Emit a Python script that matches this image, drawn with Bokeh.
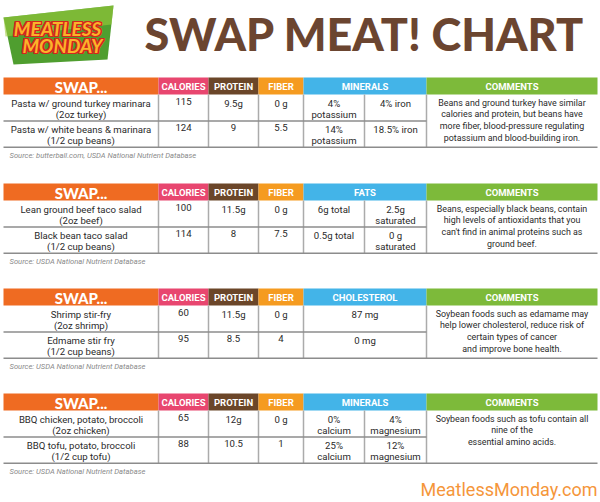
from bokeh.plotting import figure
from bokeh.models import Range1d
from bokeh.core.properties import value
from bokeh.embed import file_html
from bokeh.resources import INLINE

# ---------------- data ----------------
title = "SWAP MEAT! CHART"
logo_lines = ["MEATLESS", "MONDAY"]
footer = "MeatlessMonday.com"

base_headers = ["SWAP...", "CALORIES", "PROTEIN", "FIBER"]
extra_headers = ["MINERALS", "FATS", "CHOLESTEROL", "MINERALS"]
comment_header = "COMMENTS"

swap_foods = [
    ["Pasta w/ ground turkey marinara\n(2oz turkey)", "Pasta w/ white beans & marinara\n(1/2 cup beans)"],
    ["Lean ground beef taco salad\n(2oz beef)", "Black bean taco salad\n(1/2 cup beans)"],
    ["Shrimp stir-fry\n(2oz shrimp)", "Edmame stir fry\n(1/2 cup beans)"],
    ["BBQ chicken, potato, broccoli\n(2oz chicken)", "BBQ tofu, potato, broccoli\n(1/2 cup tofu)"],
]
calories = [["115", "124"], ["100", "114"], ["60", "95"], ["65", "88"]]
protein = [["9.5g", "9"], ["11.5g", "8"], ["11.5g", "8.5"], ["12g", "10.5"]]
fiber = [["0 g", "5.5"], ["0 g", "7.5"], ["0 g", "4"], ["0 g", "1"]]
extra_a = [["4%\npotassium", "14%\npotassium"],
           ["6g total", "0.5g total"],
           ["87 mg", "0 mg"],
           ["0%\ncalcium", "25%\ncalcium"]]
extra_b = [["4% iron", "18.5% iron"],
           ["2.5g\nsaturated", "0 g\nsaturated"],
           None,
           ["4%\nmagnesium", "12%\nmagnesium"]]
comments = [
    "Beans and ground turkey have similar\ncalories and protein, but beans have\nmore fiber, blood-pressure regulating\npotassium and blood-building iron.",
    "Beans, especially black beans, contain\nhigh levels of antioxidants that you\ncan't find in animal proteins such as\nground beef.",
    "Soybean foods such as edamame may\nhelp lower cholesterol, reduce risk of\ncertain types of cancer\nand improve bone health.",
    "Soybean foods such as tofu contain all\nnine of the\nessential amino acids.",
]
sources = [
    "Source: butterball.com, USDA National Nutrient Database",
    "Source: USDA National Nutrient Database",
    "Source: USDA National Nutrient Database",
    "Source: USDA National Nutrient Database",
]

# ---------------- layout / style ----------------
edges = [3, 158, 208, 258, 303, 364, 426, 597]
table_tops = [77, 183, 288, 393]
hh = 17
rh = 26.4
header_colors = ["#ef6b22", "#e8466f", "#6b4629", "#f59b20", "#43b4e8", "#7dba3a"]
BODY = value("Roboto")
HEAVY = value("'Lato Black', Lato")
BODY_COLOR = "#2a2a2a"

p = figure(width=600, height=502, x_range=Range1d(0, 600), y_range=Range1d(502, 0),
           output_backend="svg", toolbar_location=None, min_border=0)
p.axis.visible = False
p.grid.visible = False
p.outline_line_color = None
p.background_fill_color = "white"

# ---------- logo ----------
p.patch([3, 113, 107, 13], [17, 5, 59, 64], fill_color="#4f9e2f", line_color=None)
p.patch([3, 113, 111, 5], [17, 5, 24, 36], fill_color="#9ccb3c", line_color=None, fill_alpha=0.6)
logo_x = [57, 62]
logo_y = [28, 45]
for dx in (-1.4, 0, 1.4):
    for dy in (-1.4, 0, 1.4):
        p.text([x + dx for x in logo_x], [y + dy for y in logo_y], text=logo_lines,
               text_align="center", text_baseline="middle", text_color="#d3261e",
               text_font=value("Lato"), text_font_style="bold italic", text_font_size="19px")
p.text(logo_x, logo_y, text=logo_lines, text_align="center", text_baseline="middle",
       text_color="#fbb32a", text_font=value("Lato"), text_font_style="bold italic",
       text_font_size="19px")

# ---------- title ----------
p.text([364], [33], text=[title], text_align="center", text_baseline="middle",
       text_color="#6b4530", text_font=HEAVY, text_font_style="bold",
       text_font_size="45px")

# ---------- tables ----------
for t, top in enumerate(table_tops):
    hb = top + hh
    r1 = hb + rh
    bot = r1 + rh
    hl = [edges[0], edges[1], edges[2], edges[3], edges[4], edges[6]]
    hr = [edges[1], edges[2], edges[3], edges[4], edges[6], edges[7]]
    p.quad(left=hl, right=hr, top=[top] * 6, bottom=[hb] * 6,
           fill_color=header_colors, line_color=None)
    p.text([(edges[0] + edges[1]) / 2], [top + hh / 2 + 0.8], text=[base_headers[0]],
           text_align="center", text_baseline="middle", text_color="white",
           text_font=HEAVY, text_font_style="bold", text_font_size="15px")
    hx = [(edges[1] + edges[2]) / 2, (edges[2] + edges[3]) / 2, (edges[3] + edges[4]) / 2,
          (edges[4] + edges[6]) / 2, (edges[6] + edges[7]) / 2]
    p.text(hx, [top + hh / 2 + 0.5] * 5,
           text=[base_headers[1], base_headers[2], base_headers[3], extra_headers[t], comment_header],
           text_align="center", text_baseline="middle", text_color="white",
           text_font=BODY, text_font_style="bold", text_font_size="9.5px")
    vx = [edges[1], edges[2], edges[3], edges[4], edges[6]]
    if extra_b[t] is not None:
        vx.append(edges[5])
    p.segment(x0=vx, y0=[hb] * len(vx), x1=vx, y1=[bot] * len(vx),
              line_color="#ababab", line_width=1.5)
    p.segment(x0=[edges[0], edges[0]], y0=[r1, bot], x1=[edges[6], edges[7]], y1=[r1, bot],
              line_color="#8c8c8c", line_width=1.5)
    for r in range(2):
        ry = hb + r * rh + 3
        cx = [(edges[0] + edges[1]) / 2, (edges[1] + edges[2]) / 2,
              (edges[2] + edges[3]) / 2, (edges[3] + edges[4]) / 2]
        txt = [swap_foods[t][r], calories[t][r], protein[t][r], fiber[t][r]]
        if extra_b[t] is None:
            cx.append((edges[4] + edges[6]) / 2)
            txt.append(extra_a[t][r])
        else:
            cx += [(edges[4] + edges[5]) / 2, (edges[5] + edges[6]) / 2]
            txt += [extra_a[t][r], extra_b[t][r]]
        p.text(cx, [ry] * len(cx), text=txt, text_align="center", text_baseline="top",
               text_color=BODY_COLOR, text_font=BODY, text_font_size="9.6px",
               text_line_height=1.03)
    p.text([(edges[6] + edges[7]) / 2], [hb + 3.2], text=[comments[t]], text_align="center",
           text_baseline="top", text_color=BODY_COLOR, text_font=BODY,
           text_font_size="8.9px", text_line_height=1.17)
    p.text([9], [bot + 8], text=[sources[t]], text_align="left", text_baseline="middle",
           text_color="#8a8a8a", text_font=BODY, text_font_style="italic",
           text_font_size="7.6px")

# ---------- footer ----------
p.text([597], [489], text=[footer], text_align="right", text_baseline="middle",
       text_color="#f5963a", text_font=BODY, text_font_size="18px")

open("out.html", "w").write(file_html(p, INLINE))
